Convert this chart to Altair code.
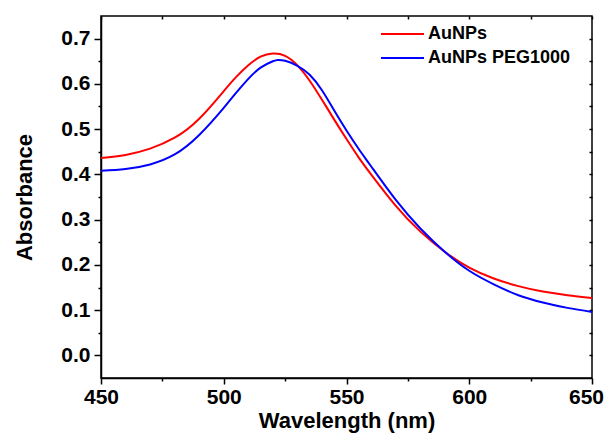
import altair as alt
import pandas as pd

series = ["AuNPs", "AuNPs PEG1000"]
colors = ["#ff0000", "#0000ff"]

wl_red = [450, 460, 470, 480, 490, 500, 505, 510, 515, 520, 525, 530, 535, 540,
          545, 550, 555, 560, 570, 580, 590, 600, 610, 620, 630, 640, 650]
abs_red = [0.436, 0.443, 0.457, 0.481, 0.523, 0.584, 0.615, 0.641, 0.660, 0.667,
           0.662, 0.641, 0.607, 0.565, 0.521, 0.478, 0.437, 0.400, 0.331, 0.274,
           0.229, 0.194, 0.170, 0.153, 0.141, 0.133, 0.127]

wl_blue = [450, 460, 470, 480, 490, 500, 505, 510, 515, 520, 522, 525, 530, 535,
           540, 545, 550, 555, 560, 570, 580, 590, 600, 610, 620, 630, 640, 650]
abs_blue = [0.408, 0.412, 0.422, 0.444, 0.487, 0.547, 0.580, 0.611, 0.636, 0.650,
            0.653, 0.651, 0.640, 0.620, 0.586, 0.541, 0.497, 0.456, 0.418, 0.344,
            0.281, 0.229, 0.187, 0.157, 0.133, 0.117, 0.105, 0.096]

x_ticks = [450, 475, 500, 525, 550, 575, 600, 625, 650]
y_ticks = [0.0, 0.05, 0.1, 0.15, 0.2, 0.25, 0.3, 0.35, 0.4, 0.45, 0.5, 0.55,
           0.6, 0.65, 0.7]

df = pd.concat([
    pd.DataFrame({"wl": wl_red, "absorb": abs_red, "series": series[0]}),
    pd.DataFrame({"wl": wl_blue, "absorb": abs_blue, "series": series[1]}),
])

FONT = "Liberation Sans"
xscale = alt.Scale(domain=[450, 650], nice=False, zero=False)
yscale = alt.Scale(domain=[-0.05, 0.75], nice=False, zero=False)

lines = alt.Chart(df).mark_line(strokeWidth=2, interpolate="natural").encode(
    x=alt.X("wl:Q", scale=xscale, axis=alt.Axis(
        orient="bottom", values=x_ticks, title="Wavelength (nm)",
        labelExpr="datum.value % 50 == 0 ? datum.label : ''",
        tickSize={"condition": {"test": "datum.value % 50 == 0", "value": 6}, "value": 3},
        labelOffset={"condition": {"test": "datum.value == 650", "value": -6}, "value": 0},
        labelPadding=2, titlePadding=3, grid=False, labelFlush=False,
    )),
    y=alt.Y("absorb:Q", scale=yscale, axis=alt.Axis(
        orient="left", values=y_ticks, title="Absorbance", format=".1f",
        labelExpr="abs(round(datum.value * 100)) % 10 == 0 ? datum.label : ''",
        tickSize={"condition": {"test": "abs(round(datum.value * 100)) % 10 == 0", "value": 7}, "value": 3},
        labelPadding=4, titlePadding=24, grid=False, labelFlush=False,
    )),
    color=alt.Color("series:N", scale=alt.Scale(domain=series, range=colors),
                    legend=alt.Legend(
                        orient="none", legendX=279, legendY=8, title=None,
                        symbolType="stroke", symbolSize=1849, symbolStrokeWidth=2,
                        clipHeight=20, rowPadding=4, labelOffset=3, padding=0,
                        labelFont=FONT, labelFontSize=18, labelFontWeight="bold",
                        labelColor="black",
                    )),
)

frame = alt.Chart(df).mark_line(opacity=0).encode(
    x=alt.X("wl:Q", scale=xscale, axis=alt.Axis(
        orient="top", values=x_ticks, labels=False, title=None, domain=False,
        tickSize=3, offset=-3, grid=False,
    )),
    y=alt.Y("absorb:Q", scale=yscale, axis=alt.Axis(
        orient="right", values=y_ticks, labels=False, title=None, domain=False,
        tickSize=3, offset=-3, grid=False,
    )),
    detail="series:N",
)

chart = alt.layer(lines, frame).resolve_axis(
    x="independent", y="independent"
).properties(
    width=491, height=362,
    autosize=alt.AutoSizeParams(type="none"),
    padding={"left": 93, "top": 8, "right": 13, "bottom": 56},
).configure_view(
    stroke="black", strokeWidth=1.5
).configure_axis(
    domainColor="black", domainWidth=1.5, tickColor="black", tickWidth=1.5,
    labelFont=FONT, labelFontSize=21, labelFontWeight="bold", labelColor="black",
    titleFont=FONT, titleFontSize=22, titleFontWeight="bold", titleColor="black",
)

chart.save("out.html", embed_options={"renderer": "svg", "actions": False})
